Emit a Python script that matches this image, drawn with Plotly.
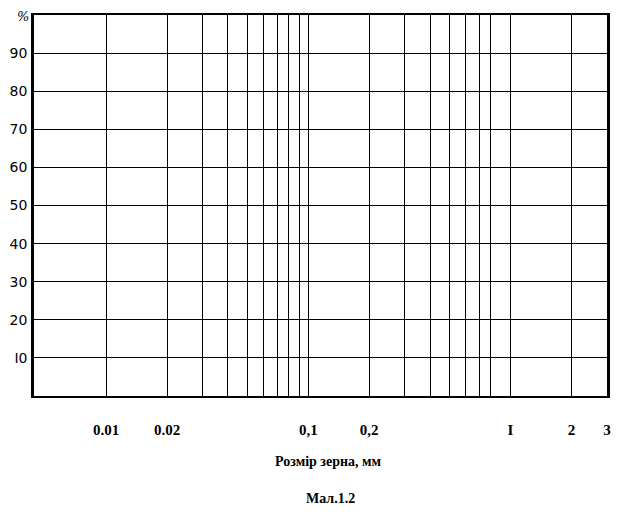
import math
import plotly.graph_objects as go

# grain-size grid lines (mm) and their labels
grid_sizes = [0.01, 0.02, 0.03, 0.04, 0.05, 0.06, 0.07, 0.08, 0.09,
              0.1, 0.2, 0.3, 0.4, 0.5, 0.6, 0.7, 0.8,
              1, 2, 3]
grid_labels = ["0.01", "0.02", "", "", "", "", "", "", "",
               "0,1", "0,2", "", "", "", "", "", "",
               "I", "2", "3"]
# percentage grid lines and labels
pct_values = [10, 20, 30, 40, 50, 60, 70, 80, 90]
pct_labels = ["I0", "20", "30", "40", "50", "60", "70", "80", "90"]

x_title = "Розмір зерна, мм"
caption = "Мал.1.2"

fig = go.Figure()
# invisible trace so the axes are drawn
fig.add_trace(go.Scatter(x=[grid_sizes[0], grid_sizes[-1]], y=[0, 100],
                         mode="markers", marker=dict(opacity=0),
                         hoverinfo="skip", showlegend=False))

fig.update_layout(
    width=620, height=506,
    margin=dict(l=26, r=21, t=7, b=118),
    paper_bgcolor="white", plot_bgcolor="white",
    showlegend=False,
    xaxis=dict(
        type="log", automargin=False,
        range=[-2.357, math.log10(3)],
        tickvals=grid_sizes, ticktext=grid_labels,
        ticks="", ticklabelstandoff=19,
        tickfont=dict(family="Liberation Serif", size=15, color="black", weight="bold"),
        showgrid=True, gridcolor="black", gridwidth=1.4,
        showline=True, linecolor="black", linewidth=2, mirror=True,
        zeroline=False,
    ),
    yaxis=dict(
        range=[0, 100], automargin=False,
        tickvals=pct_values, ticktext=pct_labels,
        ticks="", ticklabelstandoff=1,
        tickfont=dict(family="DejaVu Sans", size=14, color="black"),
        showgrid=True, gridcolor="black", gridwidth=1.4,
        showline=True, linecolor="black", linewidth=2.5, mirror=True,
        zeroline=False,
    ),
    annotations=[
        dict(text=x_title, xref="paper", yref="paper", x=0.514, y=-0.173,
             xanchor="center", yanchor="middle", showarrow=False,
             font=dict(family="Liberation Serif", size=14, color="black", weight="bold")),
        dict(text=caption, xref="paper", yref="paper", x=0.517, y=-0.27,
             xanchor="center", yanchor="middle", showarrow=False,
             font=dict(family="Liberation Serif", size=14, color="black", weight="bold")),
        dict(text="%", xref="paper", yref="paper", x=-0.019, y=0.995,
             xanchor="center", yanchor="middle", showarrow=False,
             font=dict(family="DejaVu Serif", size=13, color="black", style="italic")),
    ],
)

fig.write_html("out.html")
